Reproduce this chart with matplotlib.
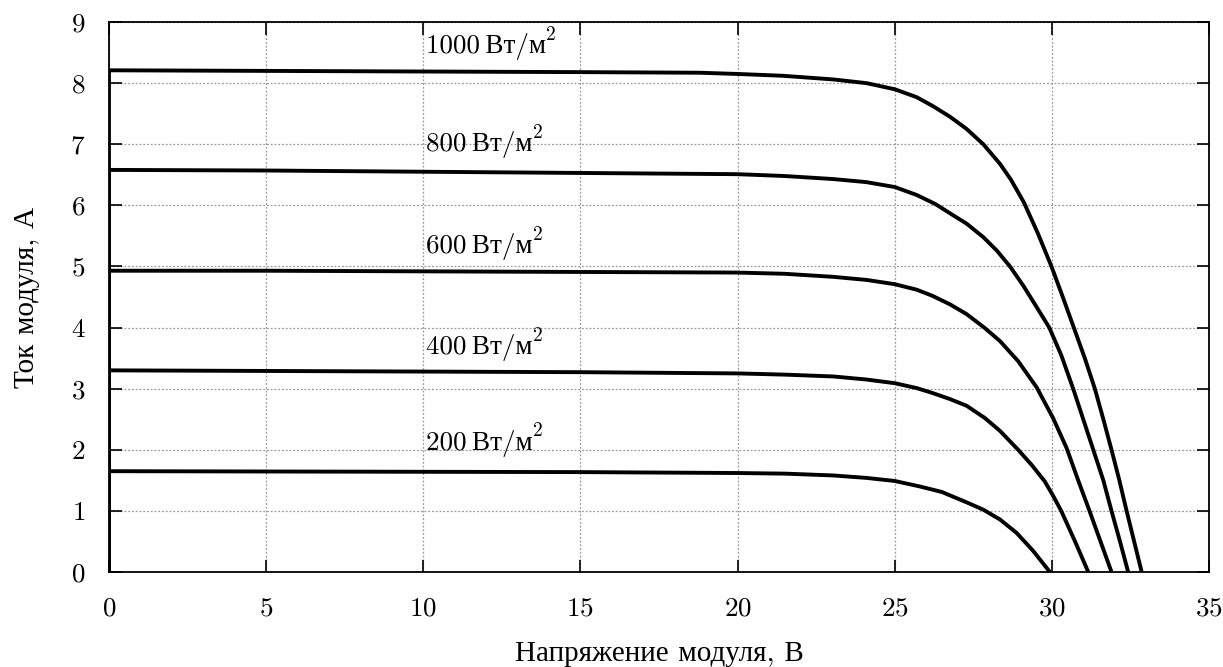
import numpy as np
import matplotlib
matplotlib.use('Agg')
import matplotlib.pyplot as plt

plt.rcParams['font.family'] = ['cmr10', 'Liberation Serif']
plt.rcParams['axes.formatter.use_mathtext'] = True

# I-V curves (voltage V, current A)
v1000 = [0, 0, 5, 10, 15, 18.8, 20, 21.45, 23.05, 24.1, 25, 25.7, 26.23, 26.76, 27.29, 27.82, 28.35, 28.7,
         29.11, 29.55, 29.99, 30.35, 30.70, 31.05, 31.37, 31.64, 31.90, 32.15, 32.38, 32.62, 32.86]
i1000 = [0, 8.21, 8.20, 8.19, 8.18, 8.17, 8.15, 8.12, 8.06, 8.00, 7.90, 7.77, 7.62, 7.45, 7.25, 7.00, 6.68, 6.42,
         6.05, 5.55, 5.00, 4.50, 4.00, 3.50, 3.00, 2.50, 2.00, 1.50, 1.00, 0.50, 0]
v800 = [0, 0, 5, 10, 15, 20, 21.5, 23.05, 24.1, 25, 25.7, 26.3, 26.76, 27.29, 27.82, 28.25, 28.67, 29.1,
        29.5, 29.92, 30.3, 30.68, 31.0, 31.32, 31.64, 31.9, 32.17, 32.43]
i800 = [0, 6.58, 6.57, 6.55, 6.53, 6.51, 6.48, 6.43, 6.38, 6.30, 6.17, 6.02, 5.87, 5.70, 5.48, 5.26, 5.00, 4.68,
        4.35, 4.00, 3.55, 3.00, 2.50, 2.00, 1.50, 1.00, 0.50, 0]
v600 = [0, 0, 5, 10, 15, 20, 21.5, 23.05, 24.1, 25, 25.7, 26.2, 26.76, 27.29, 27.85, 28.35, 28.93, 29.52,
        30.04, 30.47, 30.84, 31.2, 31.55, 31.9]
i600 = [0, 4.93, 4.93, 4.92, 4.91, 4.90, 4.88, 4.83, 4.78, 4.71, 4.62, 4.52, 4.38, 4.22, 4.00, 3.78, 3.45, 3.02,
        2.52, 2.03, 1.50, 1.00, 0.50, 0]
v400 = [0, 0, 5, 10, 15, 20, 21.5, 23.05, 24.1, 25, 25.7, 26.2, 26.76, 27.29, 27.87, 28.35, 28.93, 29.38,
        29.78, 30.05, 30.3, 30.74, 31.16]
i400 = [0, 3.30, 3.29, 3.28, 3.27, 3.25, 3.23, 3.20, 3.15, 3.09, 3.01, 2.93, 2.83, 2.72, 2.52, 2.31, 2.00, 1.74,
        1.48, 1.24, 1.00, 0.50, 0]
v200 = [0, 0, 5, 10, 15, 20, 21.5, 23.05, 24.1, 25, 25.8, 26.5, 27.29, 27.82, 28.35, 28.88, 29.4, 29.94]
i200 = [0, 1.65, 1.645, 1.64, 1.635, 1.62, 1.61, 1.58, 1.54, 1.49, 1.40, 1.31, 1.14, 1.02, 0.86, 0.64, 0.35, 0]

curves = [(v1000, i1000), (v800, i800), (v600, i600), (v400, i400), (v200, i200)]
labels = ['1000', '800', '600', '400', '200']
label_x = [10.1, 10.1, 10.1, 10.1, 10.1]
label_y = [8.6, 7.0, 5.32, 3.67, 2.11]

fig = plt.figure(figsize=(12.23, 6.67), dpi=100)
ax = fig.add_axes([0.0891, 0.1424, 0.8994, 0.8246])

for v, i in curves:
    ax.plot(v, i, color='black', lw=2.8, solid_joinstyle='round', solid_capstyle='butt', zorder=3)

for lab, x, y in zip(labels, label_x, label_y):
    t = ax.text(x, y, lab + '\u2009Вт/м', fontsize=19.5, va='center', ha='left', zorder=4)
    ax.annotate('2', xy=(1.0, 0.6), xycoords=t, fontsize=14, va='bottom', ha='left', zorder=4)

ax.set_xlim(0, 35)
ax.set_ylim(0, 9)
ax.set_xticks(np.arange(0, 36, 5))
ax.set_yticks(np.arange(0, 10, 1))
ax.grid(True, color='#999999', linestyle=(0, (1.5, 1.5)), lw=0.9)
ax.tick_params(direction='in', length=9, width=1.2, top=True, right=True, labelsize=19.5)
ax.tick_params(axis='x', pad=18)
ax.tick_params(axis='y', pad=17)
for s in ax.spines.values():
    s.set_linewidth(1.3)

ax.set_xlabel('Напряжение модуля, В', fontsize=21, labelpad=14)
ax.set_ylabel('Ток модуля, А', fontsize=21, labelpad=22)

fig.savefig('out.png', dpi=100)
